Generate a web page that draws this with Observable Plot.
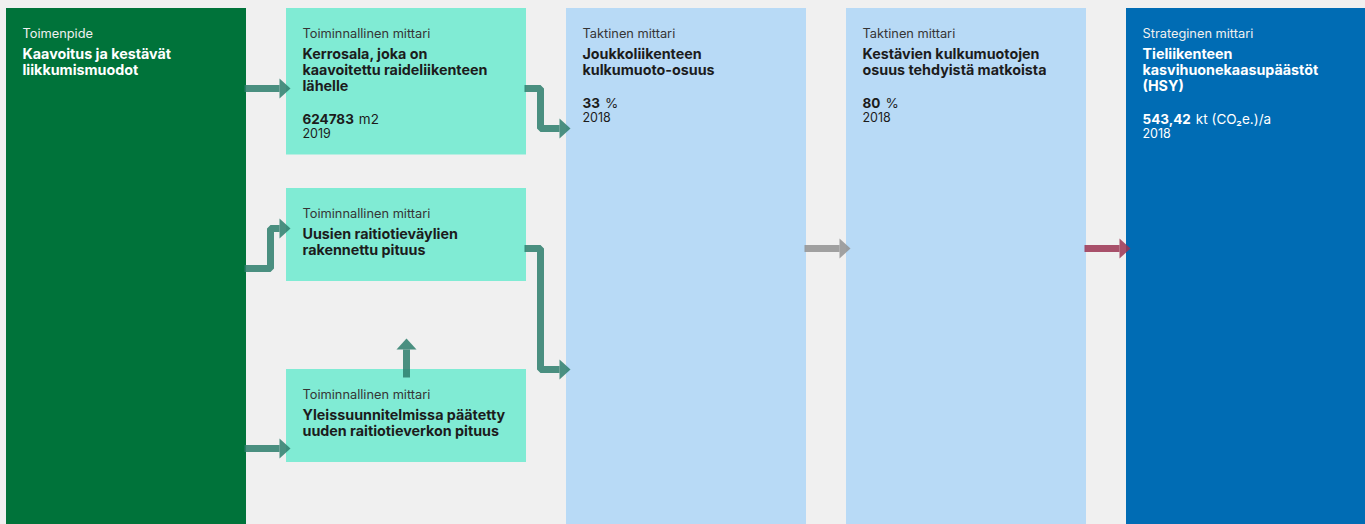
<!DOCTYPE html>
<html><head><meta charset="utf-8">
<script src="https://cdn.jsdelivr.net/npm/d3@7"></script>
<script src="https://cdn.jsdelivr.net/npm/@observablehq/plot@0.6"></script>
<style>
html,body{margin:0;padding:0;background:#f0f0f0;overflow:hidden}
#chart svg{display:block}
</style>
</head><body><div id="chart"></div>
<script>
// ---------- DATA ----------
const nodeKinds = ["Toimenpide", "Toiminnallinen mittari", "Toiminnallinen mittari", "Toiminnallinen mittari", "Taktinen mittari", "Taktinen mittari", "Strateginen mittari"];
const nodeTitles = [
  ["Kaavoitus ja kestävät", "liikkumismuodot"],
  ["Kerrosala, joka on", "kaavoitettu raideliikenteen", "lähelle"],
  ["Uusien raitiotieväylien", "rakennettu pituus"],
  ["Yleissuunnitelmissa päätetty", "uuden raitiotieverkon pituus"],
  ["Joukkoliikenteen", "kulkumuoto-osuus"],
  ["Kestävien kulkumuotojen", "osuus tehdyistä matkoista"],
  ["Tieliikenteen", "kasvihuonekaasupäästöt", "(HSY)"]
];
const nodeValues = [null, "624783", null, null, "33", "80", "543,42"];
const nodeUnits = [null, "m2", null, null, "%", "%", "kt (CO₂e.)/a"];
const nodeYears = [null, "2019", null, null, "2018", "2018", "2018"];
const linkSources = [0, 0, 0, 3, 1, 2, 4, 5];
const linkTargets = [1, 2, 3, 2, 4, 4, 5, 6];

// ---------- LAYOUT & STYLE ----------
const W = 1365, H = 524;
const FONT = "Inter, Roboto, 'Liberation Sans', sans-serif";
const colOf = [0, 1, 1, 1, 2, 3, 4];
const COL_X0 = 6, COL_STEP = 280, COL_W = 240;
const nodeTop = [8, 8, 188, 369, 8, 8, 8];
const fullHeight = [true, false, false, false, true, true, true];
const kindFill = {"Toimenpide": "#00733a", "Toiminnallinen mittari": "#80ebd4", "Taktinen mittari": "#b8daf6", "Strateginen mittari": "#006cb4"};
const kindDark = {"Toimenpide": true, "Toiminnallinen mittari": false, "Taktinen mittari": false, "Strateginen mittari": true};
const TEAL = "rgb(45,126,108)", GRAY = "rgb(146,146,146)", MAROON = "rgb(155,52,82)";
function linkColorOf(sKind, tKind) {
  if (tKind === "Strateginen mittari") return MAROON;
  if (sKind === "Taktinen mittari") return GRAY;
  return TEAL;
}
// route: [exitY, entryY, elbowX] (elbowX only for bent arrows)
const linkRoutes = [[88, 88], [268, 228, 270], [448, 448], [], [88, 128, 540], [248, 369, 540], [248, 248], [248, 248]];

// ---------- BUILD ----------
const ctx = document.createElement("canvas").getContext("2d");
function measure(t, font) { ctx.font = font; return ctx.measureText(t).width; }

const nodes = nodeKinds.map((kind, i) => {
  const left = COL_X0 + colOf[i] * COL_STEP;
  const top = nodeTop[i];
  const lastTitle = top + 50 + 16 * (nodeTitles[i].length - 1);
  const valueY = lastTitle + 33;
  const yearY = valueY + 14.5;
  const bottom = fullHeight[i] ? H + 10 : (nodeValues[i] ? yearY + 17 : lastTitle + 27);
  return {i, kind, left, right: left + COL_W, top, bottom, lastTitle, valueY, yearY,
    fill: kindFill[kind], ink: kindDark[kind] ? "#ffffff" : "#1c1c1c", sub: kindDark[kind] ? "#f0f0f0" : "#353535"};
});

const labels = nodes.map(n => ({x: n.left + 16, y: n.top + 29, text: nodeKinds[n.i], c: n.sub}));
const titles = nodes.flatMap(n => nodeTitles[n.i].map((t, k) => ({x: n.left + 16, y: n.top + 50 + 16 * k, text: t, c: n.ink})));
const values = nodes.filter(n => nodeValues[n.i]).map(n => ({x: n.left + 16, y: n.valueY, text: nodeValues[n.i], c: n.ink}));
const units = nodes.filter(n => nodeUnits[n.i]).map(n => ({x: n.left + 16 + measure(nodeValues[n.i], `700 13.5px ${FONT}`) + 5, y: n.valueY, text: nodeUnits[n.i], c: n.ink}));
const years = nodes.filter(n => nodeYears[n.i]).map(n => ({x: n.left + 16, y: n.yearY, text: nodeYears[n.i], c: n.ink}));

const shafts = [], heads = [];
linkSources.forEach((s, k) => {
  const t = linkTargets[k];
  const S = nodes[s], T = nodes[t];
  const color = linkColorOf(S.kind, T.kind);
  if (colOf[s] === colOf[t]) {
    const cx = (S.left + S.right) / 2;
    const tip = S.top - 31;
    shafts.push({link: k, x: cx, y: S.top + 8, c: color}, {link: k, x: cx, y: tip + 11, c: color});
    heads.push({x: cx, y: tip + 11, rot: -90, c: color});
  } else {
    const r = linkRoutes[k];
    const x0 = S.right - 2, tip = T.left + 4, base = tip - 11;
    const pts = r.length === 3 ? [[x0, r[0]], [r[2], r[0]], [r[2], r[1]], [base, r[1]]] : [[x0, r[0]], [base, r[1]]];
    pts.forEach(([x, y]) => shafts.push({link: k, x, y, c: color}));
    heads.push({x: base, y: r[1], rot: 0, c: color});
  }
});

const arrowHead = {draw(c) { c.moveTo(0, -10); c.lineTo(11, 0); c.lineTo(0, 10); c.closePath(); }};

const txt = {x: "x", y: "y", text: "text", fill: "c", textAnchor: "start", lineAnchor: "bottom", fontFamily: FONT};

const chart = Plot.plot({
  width: W, height: H,
  margin: 0,
  style: {background: "#f0f0f0", fontFamily: FONT},
  x: {domain: [0, W], range: [0, W], axis: null},
  y: {domain: [0, H], range: [0, H], axis: null},
  color: {type: "identity"},
  marks: [
    Plot.rect(nodes, {x1: "left", x2: "right", y1: "top", y2: "bottom", fill: "fill"}),
    Plot.line(shafts, {x: "x", y: "y", z: "link", stroke: "c", strokeWidth: 7, strokeOpacity: 0.85, strokeLinejoin: "miter", strokeLinecap: "butt", curve: "linear"}),
    Plot.dot(heads, {x: "x", y: "y", rotate: "rot", symbol: arrowHead, fill: "c", fillOpacity: 0.85, stroke: null}),
    Plot.text(labels, {...txt, fontSize: 12.8, fontWeight: 400}),
    Plot.text(titles, {...txt, fontSize: 14.3, fontWeight: 700}),
    Plot.text(values, {...txt, fontSize: 13.5, fontWeight: 700}),
    Plot.text(units, {...txt, fontSize: 13.5}),
    Plot.text(years, {...txt, fontSize: 12.5})
  ]
});
document.getElementById("chart").appendChild(chart);
</script></body></html>
